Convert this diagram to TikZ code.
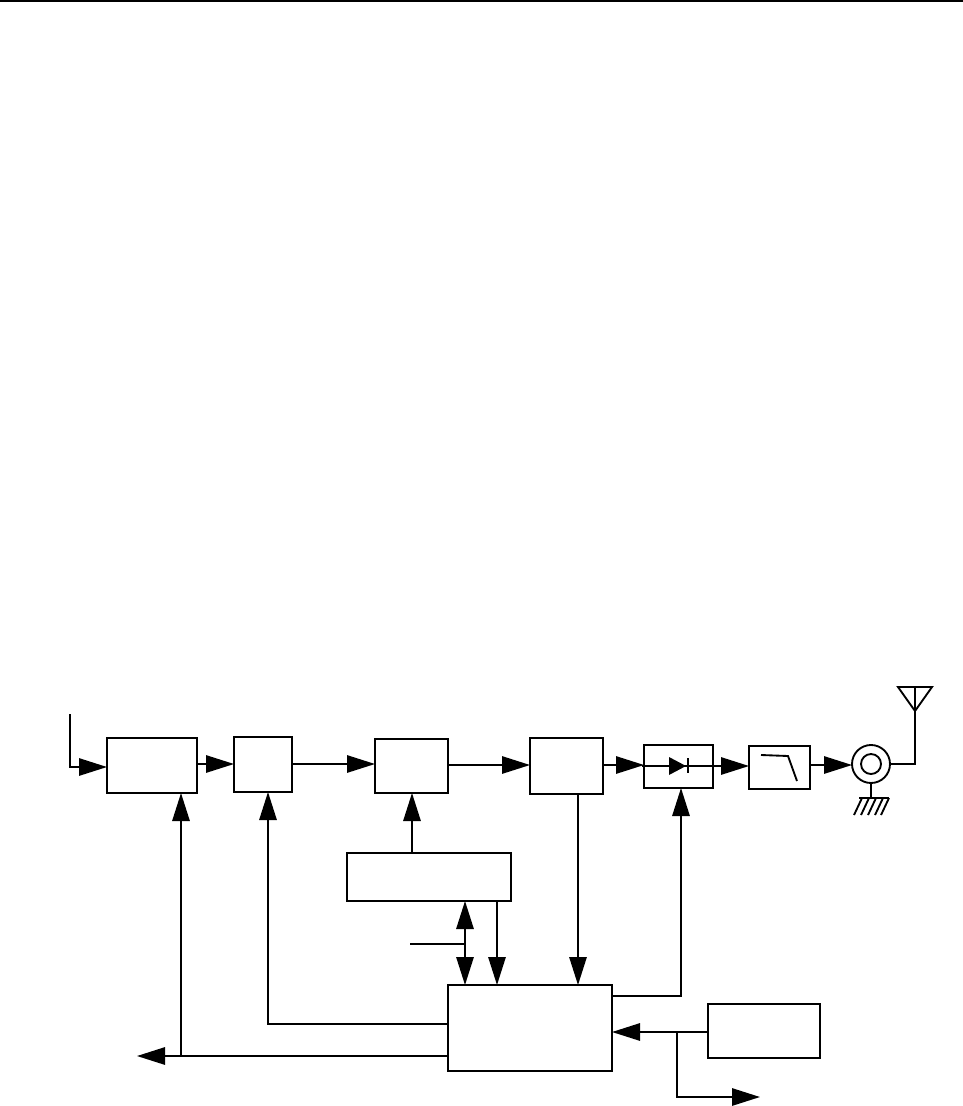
\documentclass[tikz,border=0pt]{standalone}
\usepackage{xcolor}
\usetikzlibrary{arrows.meta, calc}

\begin{document}
\begin{tikzpicture}[
    x=0.75pt, y=-0.75pt,
    line width=1.4pt,
    blockbox/.style={rectangle, draw=black, inner sep=0pt, outer sep=0pt, line width=1.4pt},
    ringnode/.style={circle, draw=black, inner sep=0pt, outer sep=0pt, line width=1.4pt},
    arrow/.style={-{Triangle[length=21pt, width=13pt]}, line width=1.4pt, black},
    twoway/.style={{Triangle[length=21pt, width=13pt]}-{Triangle[length=21pt, width=13pt]}, line width=1.4pt, black}
]
\useasboundingbox (0,0) rectangle (963,1106);
\draw[line width=1.1pt] (0,1) -- (963,1);

% top row
\node[blockbox, minimum width=67.5pt, minimum height=41.25pt] (amp) at (152,765.5) {};
\node[blockbox, minimum width=43.5pt, minimum height=41.25pt] (mixer) at (263,764.5) {};
\node[blockbox, minimum width=54.75pt, minimum height=40.5pt] (vco) at (411.5,766) {};
\node[blockbox, minimum width=54.75pt, minimum height=42pt] (driver) at (566.5,766) {};
\node[blockbox, minimum width=51.75pt, minimum height=32.25pt] (diodebox) at (678.5,766.5) {};
\node[blockbox, minimum width=45.75pt, minimum height=32.25pt] (lowpass) at (779.5,767.5) {};
\node[ringnode, minimum size=28.5pt] (coax) at (871,764) {};
\node[ringnode, minimum size=15pt] (coaxin) at (871,764) {};

% lower row
\node[blockbox, minimum width=123pt, minimum height=36pt] (synth) at (429,877) {};
\node[blockbox, minimum width=123pt, minimum height=64.5pt] (ctrl) at (530,1028) {};
\node[blockbox, minimum width=84pt, minimum height=40.5pt] (ref) at (764,1031) {};

\coordinate (inA) at (70,714);
\coordinate (inB) at (70,767);
\coordinate (stub) at (410,944);
\coordinate (busA) at (412,825);
\coordinate (busB) at (465,944);
\coordinate (busC) at (497,944);
\coordinate (busD) at (578,900);
\coordinate (outA) at (137,1056);
\coordinate (outB) at (760,1097);
\coordinate (tapA) at (181,1056);
\coordinate (tapB) at (677,1032);
\coordinate (turnA) at (268,1024);
\coordinate (turnB) at (681,996);
\coordinate (antTop) at (915,686);
\coordinate (antLow) at (915,764);

\draw[arrow] (inA) -- (inB) -- (inB -| amp.west);
\draw[arrow] (amp.east |- 0,764) -- (mixer.west |- 0,764);
\draw[arrow] (mixer.east |- 0,764) -- (vco.west |- 0,764);
\draw[arrow] (vco.east |- 0,765) -- (driver.west |- 0,765);
\draw[arrow] (driver.east |- 0,765) -- (diodebox.west |- 0,765);
\draw[arrow] (diodebox.east |- 0,766) -- (lowpass.west |- 0,766);
\draw[arrow] (lowpass.east |- 0,765) -- (coax.west |- 0,765);

\draw[arrow] (busA |- synth.north) -- (busA |- vco.south);
\draw[arrow] (ctrl.west |- outA) -- (outA);
\draw[arrow] (tapA) -- (tapA |- amp.south);
\draw[arrow] (ctrl.west |- turnA) -- (turnA) -- (turnA |- mixer.south);
\draw (stub) -- (busB);
\draw[twoway] (busB |- synth.south) -- (busB |- ctrl.north);
\draw[arrow] (busC |- synth.south) -- (busC |- ctrl.north);
\draw[arrow] (busD |- driver.south) -- (busD |- ctrl.north);
\draw[arrow] (ctrl.east |- turnB) -- (turnB) -- (turnB |- diodebox.south);
\draw[arrow] (ref.west |- tapB) -- (ctrl.east |- tapB);
\draw[arrow] (tapB) -- (tapB |- outB) -- (outB);

% diode
\draw (642,766) -- (diodebox.east |- 0,766);
\fill (669,757) -- (686,766) -- (669,775) -- cycle;
\draw (688,758) -- (688,773);
% filter curve
\draw (761,755) -- (788,756) -- (797,781);
% antenna and ground
\draw (coax.east) -- (antLow) -- (antTop);
\draw (898,687) -- (932,687) -- (915,711) -- cycle;
\draw (coax.south) -- (871,798);
\draw (859,798) -- (889,798);
\foreach \hx in {862,869,876,883,889} {
    \draw (\hx,798) -- ++(-8,17);
}
\end{tikzpicture}
\end{document}
